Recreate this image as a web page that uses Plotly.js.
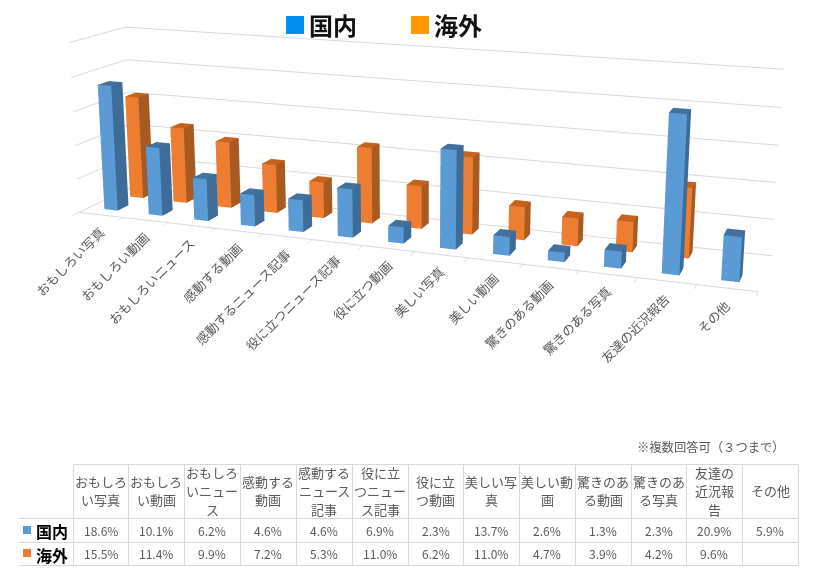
<!DOCTYPE html>
<html><head><meta charset="utf-8"><script src="https://cdn.plot.ly/plotly-3.0.1.min.js"></script>
<style>html,body{margin:0;padding:0;background:#fff;overflow:hidden;width:820px;height:580px}#c{position:absolute;left:0;top:-440px;width:820px;height:1159px}</style></head><body><div id="c"></div>
<script>
var categories=["おもしろい写真","おもしろい動画","おもしろいニュース","感動する動画","感動するニュース記事","役に立つニュース記事","役に立つ動画","美しい写真","美しい動画","驚きのある動画","驚きのある写真","友達の近況報告","その他"];
var headerLabels=["おもしろ<br>い写真","おもしろ<br>い動画","おもしろ<br>いニュー<br>ス","感動する<br>動画","感動する<br>ニュース<br>記事","役に立<br>つニュー<br>ス記事","役に立<br>つ動画","美しい写<br>真","美しい動<br>画","驚きのあ<br>る動画","驚きのあ<br>る写真","友達の<br>近況報<br>告","その他"];
var domestic=[18.6,10.1,6.2,4.6,4.6,6.9,2.3,13.7,2.6,1.3,2.3,20.9,5.9];
var overseas=[15.5,11.4,9.9,7.2,5.3,11.0,6.2,11.0,4.7,3.9,4.2,9.6,null];
var seriesNames=["国内","海外"];
var valueTicks=[0,5,10,15,20,25];

var W=820,Ht=1159,topOff=-440;
var bw=0.15,bd=0.1;
function bars(vals,yc,cols,name){var xs=[],ys=[],zs=[],I=[],J=[],K=[],fc=[];
 vals.forEach(function(v,k){if(v==null)return;var x0=k+.5-bw,x1=k+.5+bw,y0=yc-bd,y1=yc+bd,b=xs.length;
  [[x0,y0,0],[x1,y0,0],[x1,y1,0],[x0,y1,0],[x0,y0,v],[x1,y0,v],[x1,y1,v],[x0,y1,v]].forEach(function(p){xs.push(p[0]);ys.push(p[1]);zs.push(p[2]);});
  [[0,1,5,0],[0,5,4,0],[1,2,6,1],[1,6,5,1],[3,0,4,1],[3,4,7,1],[4,5,6,2],[4,6,7,2],[2,3,7,1],[2,7,6,1]].forEach(function(t){I.push(b+t[0]);J.push(b+t[1]);K.push(b+t[2]);fc.push(cols[t[3]]);});
 });
 return {type:'mesh3d',name:name,x:xs,y:ys,z:zs,i:I,j:J,k:K,facecolor:fc,flatshading:true,hoverinfo:'skip',
  lighting:{ambient:1,diffuse:0,specular:0,roughness:1,fresnel:0},showscale:false};}
var traces=[bars(domestic,0.28,['#5b9bd5','#3c6c97','#41719c'],seriesNames[0]),bars(overseas,0.76,['#ed7d31','#a85a20','#c5631c'],seriesNames[1])];
var ln={type:'scatter3d',mode:'lines',hoverinfo:'skip',showlegend:false,line:{color:'#d9d9d9',width:2}};
function line(x,y,z){return Object.assign({},ln,{x:x,y:y,z:z});}
traces.push(line([0,13],[0,0],[0,0]));
traces.push(line([0,0],[0,1],[0,0]));

var font='Noto Sans CJK JP';
var sceneAnn=categories.map(function(c,i){return {x:i+.5,y:0,z:0,text:c,showarrow:false,textangle:-45,xanchor:'right',yanchor:'top',xshift:10,yshift:-5,font:{size:12.8,color:'#595959',family:font}};});

var shapes=[],ann=[];
function px(x){return x/W}function py(y){return 1-(y-topOff)/Ht}
function L(x0,y0,x1,y1){shapes.push({type:'line',xref:'paper',yref:'paper',x0:px(x0+.5),y0:py(y0+.5),x1:px(x1+.5),y1:py(y1+.5),line:{color:'#d9d9d9',width:1}});}
function T(x,y,t,s,c,b,xa){ann.push({xref:'paper',yref:'paper',x:px(x),y:py(y),text:b?'<b>'+t+'</b>':t,showarrow:false,xanchor:xa||'center',yanchor:'middle',font:{size:s,color:c,family:font},align:'center'});}
function R(x0,y0,x1,y1,c){shapes.push({type:'rect',xref:'paper',yref:'paper',x0:px(x0),y0:py(y0),x1:px(x1),y1:py(y1),fillcolor:c,line:{width:0}});}
var colX=[73,128,184,240,296,352,408,463,519,575,631,686,742,798];
colX.forEach(function(x){L(x,464,x,565)});
L(73,464,798,464);L(18,518,798,518);L(18,542,798,542);L(18,565,798,565);
headerLabels.forEach(function(t,i){var cx=(colX[i]+colX[i+1])/2,parts=t.split('<br>'),sp=parts.length==3?18.5:17.5;
 parts.forEach(function(s,k){T(cx,490.5+(k-(parts.length-1)/2)*sp,s,13,'#595959');});
 T(cx,530,domestic[i].toFixed(1)+'%',12,'#595959');
 if(overseas[i]!=null)T(cx,553.5,overseas[i].toFixed(1)+'%',12,'#595959');});
R(23,526,31,534,'#5b9bd5');R(23,549,31,557,'#ed7d31');
T(33.5,531,seriesNames[0],16,'#000',true,'left');T(33.5,554.5,seriesNames[1],16,'#000',true,'left');
R(286,16,304,34,'#0090f0');R(411,16,429,34,'#ff9900');
T(307,24.5,seriesNames[0],24,'#111',true,'left');T(432,24.5,seriesNames[1],24,'#111',true,'left');
T(787,447,'※複数回答可（３つまで）',12.3,'#595959',false,'right');

var hidden={visible:true,showbackground:false,showticklabels:false,showline:false,zeroline:false,showgrid:false,showspikes:false,ticks:'',title:{text:''}};
Plotly.newPlot('c',traces,{width:W,height:Ht,margin:{l:0,r:0,t:0,b:0},paper_bgcolor:'#fff',showlegend:false,shapes:shapes,annotations:ann,
 scene:{domain:{x:[0,1],y:[0,1]},aspectmode:'manual',aspectratio:{x:1,y:0.1529,z:0.2582},
  camera:{eye:{x:0.6713,y:-1.7944,z:0.4752},center:{x:-0.0227,y:0.0685,z:-0.0089},up:{x:0.0150,y:-0.0364,z:1},projection:{type:'perspective'}},
  xaxis:Object.assign({},hidden,{range:[0,13],ticks:'outside',tickmode:'array',tickvals:categories.map(function(c,i){return i}).concat([categories.length]),ticklen:5,tickwidth:2,tickcolor:'#d9d9d9'}),
  yaxis:Object.assign({},hidden,{range:[0,1]}),
  zaxis:Object.assign({},hidden,{range:[0,25],showgrid:true,gridcolor:'#d9d9d9',gridwidth:2,tickmode:'array',tickvals:valueTicks}),
  annotations:sceneAnn}},{displayModeBar:false});
</script></body></html>
